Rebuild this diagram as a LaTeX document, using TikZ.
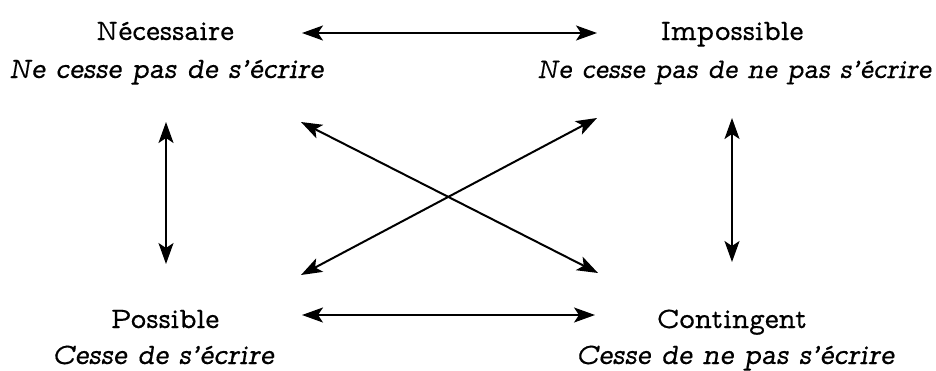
\documentclass[tikz,border=0pt]{standalone}
\usepackage{fontspec}
\setmainfont{Latin Modern Mono Prop}[UprightFeatures={FakeBold=0.4},ItalicFeatures={FakeBold=0.4}]
\usetikzlibrary{arrows.meta}
\begin{document}
\begin{tikzpicture}[x=1pt,y=-1pt,
  title/.style={font=\fontsize{29.6}{34}\selectfont, anchor=base, inner sep=0pt},
  sub/.style={font=\fontsize{29.6}{34}\selectfont\itshape, anchor=base, inner sep=0pt},
  link/.style={line width=2pt, {Stealth[length=21pt,width=15pt,inset=5pt]}-{Stealth[length=21pt,width=15pt,inset=5pt]}}]
\useasboundingbox (0,0) rectangle (936,370);
\node[title] (nec) at (165,40) {Nécessaire};
\node[sub] (necs) at (166,78) {Ne cesse pas de s’écrire};
\node[title] (imp) at (732,40) {Impossible};
\node[sub, font=\fontsize{28.4}{34}\selectfont\itshape] (imps) at (734,78) {Ne cesse pas de ne pas s’écrire};
\node[title] (pos) at (165,328) {Possible};
\node[sub] (poss) at (163,364) {Cesse de s’écrire};
\node[title] (con) at (732,328) {Contingent};
\node[sub] (cons) at (735,364) {Cesse de ne pas s’écrire};
\coordinate (tl) at (302,33);
\coordinate (tr) at (597,33);
\coordinate (bl) at (302,315);
\coordinate (br) at (595,315);
\coordinate (lt) at (166,122);
\coordinate (lb) at (166,264);
\coordinate (rt) at (732,118);
\coordinate (rb) at (732,262);
\coordinate (xtl) at (301,122);
\coordinate (xbr) at (598,273);
\coordinate (xbl) at (301,275);
\coordinate (xtr) at (597,118);
\draw[link] (tl) -- (tr);
\draw[link] (bl) -- (br);
\draw[link] (lt) -- (lb);
\draw[link] (rt) -- (rb);
\draw[link] (xtl) -- (xbr);
\draw[link] (xbl) -- (xtr);
\end{tikzpicture}
\end{document}
